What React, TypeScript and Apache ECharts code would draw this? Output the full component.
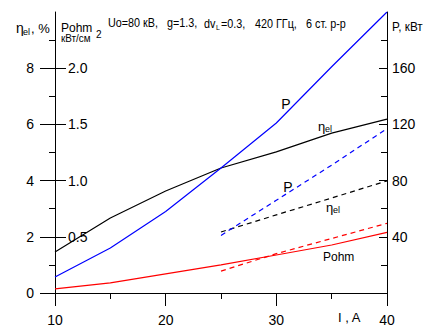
import React, { useEffect, useRef } from "react";
import * as echarts from "echarts";

const currentI = [10, 15, 20, 25, 30, 35, 40];
const etaSolid = [1.46, 2.67, 3.63, 4.45, 5.02, 5.69, 6.19];
const powerSolid = [11.4, 32, 58, 89, 121, 161, 200];
const pohmSolid = [0.036, 0.09, 0.17, 0.25, 0.338, 0.427, 0.54];

const currentDash = [25, 30, 35, 40];
const etaDash = [2.17, 2.78, 3.38, 3.99];
const powerDash = [41, 66, 91, 117];
const pohmDash = [0.195, 0.35, 0.485, 0.62];

const etaTickLabels = [0, 2, 4, 6, 8];
const etaMinorTicks = [1, 3, 5, 7, 9];
const pohmTickLabels = [0.5, 1.0, 1.5, 2.0];
const powerTickLabels = [40, 80, 120, 160];
const powerMinorTicks = [20, 60, 100, 140, 180];

const FONT = "'Liberation Sans', Arial, sans-serif";

const pairs = (xs: number[], ys: number[]) => xs.map((x, i) => [x, ys[i]]);

function txt(text: string, x: number, y: number, size = 14, align = "left", scaleX = 1) {
  return {
    type: "text",
    x,
    y,
    scaleX,
    silent: true,
    style: {
      text,
      fontSize: size,
      fontFamily: FONT,
      fill: "#000",
      align,
      verticalAlign: "middle",
    },
  };
}

export default function App() {
  const ref = useRef<HTMLDivElement>(null);
  useEffect(() => {
    if (!ref.current) return;
    const chart = echarts.init(ref.current, undefined, { renderer: "svg" });
    const black = { color: "#000", width: 1 };
    const T = 0.9;
    chart.setOption({
      animation: false,
      backgroundColor: "#fff",
      textStyle: { fontFamily: FONT },
      grid: { left: 55, right: 49, top: 12, bottom: 34, containLabel: false, outerBoundsMode: "none" },
      xAxis: {
        type: "value",
        min: 10,
        max: 40,
        interval: 10,
        axisLine: { lineStyle: black },
        axisTick: { show: true, length: 13, lineStyle: black },
        minorTick: { show: true, splitNumber: 2, length: 6, lineStyle: black },
        axisLabel: { fontSize: 14, color: "#000", margin: 20, fontFamily: FONT },
        splitLine: { show: false },
      },
      yAxis: [
        {
          type: "value",
          position: "left",
          min: 0,
          max: 10,
          interval: 2,
          axisLine: { show: true, lineStyle: black },
          axisTick: { show: true, length: 15, lineStyle: black, customValues: etaTickLabels },
          axisLabel: { fontSize: 14, color: "#000", margin: 21, fontFamily: FONT, customValues: etaTickLabels },
          splitLine: { show: false },
        },
        {
          type: "value",
          position: "left",
          min: 0,
          max: 2.5,
          interval: 0.5,
          axisLine: { show: false },
          axisTick: { show: true, inside: true, length: 11, lineStyle: black, customValues: pohmTickLabels },
          axisLabel: {
            inside: true,
            fontSize: 14,
            color: "#000",
            margin: 13,
            fontFamily: FONT,
            customValues: pohmTickLabels,
            formatter: (v: number) => v.toFixed(1),
          },
          splitLine: { show: false },
        },
        {
          type: "value",
          position: "right",
          min: 0,
          max: 200,
          interval: 40,
          axisLine: { show: true, lineStyle: black },
          axisTick: { show: true, inside: true, length: 8, lineStyle: black, customValues: powerTickLabels },
          axisLabel: { fontSize: 14, color: "#000", margin: 5, fontFamily: FONT, customValues: powerTickLabels },
          splitLine: { show: false },
        },
        {
          type: "value",
          position: "left",
          min: 0,
          max: 10,
          interval: 1,
          axisLine: { show: false },
          axisTick: { show: true, length: 6, lineStyle: black, customValues: etaMinorTicks },
          axisLabel: { show: false },
          splitLine: { show: false },
        },
        {
          type: "value",
          position: "right",
          min: 0,
          max: 200,
          interval: 20,
          axisLine: { show: false },
          axisTick: { show: true, inside: true, length: 6, lineStyle: black, customValues: powerMinorTicks },
          axisLabel: { show: false },
          splitLine: { show: false },
        },
      ],
      series: [
        { type: "line", yAxisIndex: 0, data: pairs(currentI, etaSolid), symbol: "none", lineStyle: { color: "#000", width: 1.2 } },
        { type: "line", yAxisIndex: 2, data: pairs(currentI, powerSolid), symbol: "none", lineStyle: { color: "#0000ff", width: 1.2 } },
        { type: "line", yAxisIndex: 1, data: pairs(currentI, pohmSolid), symbol: "none", lineStyle: { color: "#ff0000", width: 1.2 } },
        { type: "line", yAxisIndex: 0, data: pairs(currentDash, etaDash), symbol: "none", lineStyle: { color: "#000", width: 1.2, type: [5, 4] } },
        { type: "line", yAxisIndex: 2, data: pairs(currentDash, powerDash), symbol: "none", lineStyle: { color: "#0000ff", width: 1.2, type: [5, 4] } },
        { type: "line", yAxisIndex: 1, data: pairs(currentDash, pohmDash), symbol: "none", lineStyle: { color: "#ff0000", width: 1.2, type: [5, 4] } },
      ],
      graphic: [
        txt("η", 16, 28, 14),
        txt("el", 23, 32, 9),
        txt(", %", 31, 28, 13),
        txt("Pohm", 61, 28, 12),
        txt("кВт/см", 61, 38, 11, "left", T),
        txt("2", 96, 34, 10),
        txt("Uo=80 кВ,", 108, 23, 12, "left", T),
        txt("g=1.3,", 167, 23, 12, "left", T),
        txt("dv", 204, 24, 12, "left", T),
        txt("L", 216, 27, 7),
        txt("=0.3,", 221, 24, 12, "left", T),
        txt("420 ГГц,", 255, 24, 12, "left", T),
        txt("6 ст. р-р", 306, 24, 12, "left", T),
        txt("P, кВт", 392, 27, 13, "left", T),
        txt("P", 286, 104, 14, "center"),
        txt("η", 318, 126, 13),
        txt("el", 325, 129, 9),
        txt("P", 288, 187, 14, "center"),
        txt("η", 326, 207, 13),
        txt("el", 333, 210, 9),
        txt("Pohm", 323, 257, 12),
        txt("I , A", 338, 317, 13),
      ],
    });
    return () => chart.dispose();
  }, []);
  return <div ref={ref} style={{ position: "fixed", left: 0, top: 0, width: 436, height: 327 }} />;
}
